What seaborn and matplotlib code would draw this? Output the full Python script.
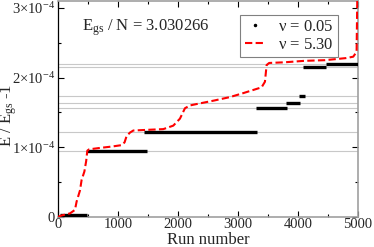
import numpy as np
import pandas as pd
import matplotlib
matplotlib.use("Agg")
import matplotlib.pyplot as plt
from matplotlib.lines import Line2D
from matplotlib.ticker import MultipleLocator
import seaborn as sns

# ---- data ----
# nu = 0.05 : plateau levels (units of 1e-4) and run-number ranges
black_levels = [0.02, 0.95, 1.216, 1.57, 1.634, 1.735, 2.153, 2.196]
black_start = [30, 490, 1430, 3300, 3800, 4010, 4090, 4460]
black_end = [490, 1480, 3320, 3810, 4040, 4110, 4460, 5000]

# reference (grey) lines at the plateau levels
grey_levels = [0.95, 1.216, 1.57, 1.634, 1.735, 2.153, 2.196]

# nu = 5.30 : red dashed curve
red_x = [0, 60, 200, 283, 311, 367, 394, 440, 470, 489, 520, 700, 900, 1061,
         1110, 1144, 1200, 1256, 1500, 1756, 1922, 2033, 2117, 2200, 2311,
         2600, 2867, 3100, 3394, 3450, 3478, 3520, 3783, 4100, 4450, 4800,
         4922, 4978, 4992]
red_y = [0.0, 0.02, 0.05, 0.10, 0.22, 0.38, 0.53, 0.65, 0.80, 0.95, 0.97,
         0.99, 1.01, 1.03, 1.07, 1.16, 1.21, 1.24, 1.25, 1.26, 1.31, 1.41,
         1.56, 1.60, 1.62, 1.67, 1.72, 1.78, 1.86, 1.94, 2.18, 2.21, 2.22,
         2.24, 2.25, 2.28, 2.30, 2.37, 3.3]

x_ticks = [0, 1000, 2000, 3000, 4000, 5000]
x_ticklabels = ["0", "1000", "2000", "3000", "4000", "5000"]
y_ticks = [0, 1, 2, 3]
y_ticklabels = ["0", r"1$\times$10$^{-4}$", r"2$\times$10$^{-4}$", r"3$\times$10$^{-4}$"]

scale = 1e-4

sns.set_style("ticks")
plt.rcParams["font.family"] = ["Liberation Serif", "DejaVu Serif"]
plt.rcParams["mathtext.fontset"] = "custom"
plt.rcParams["mathtext.rm"] = "Liberation Serif"
plt.rcParams["mathtext.it"] = "Liberation Serif:italic"
plt.rcParams["mathtext.bf"] = "Liberation Serif:bold"

fig = plt.figure(figsize=(3.74, 2.47), dpi=100)
ax = fig.add_axes([0.155, 0.122, 0.802, 0.874])

for lv in grey_levels:
    ax.axhline(lv * scale, color="#c8c8c8", lw=0.8, zorder=1)

ax.hlines([v * scale for v in black_levels], black_start, black_end,
          color="black", lw=2.4, zorder=3)

df = pd.DataFrame({"run": red_x, "E": [v * scale for v in red_y]})
sns.lineplot(data=df, x="run", y="E", ax=ax, color="red", lw=1.5,
             linestyle=(0, (3.5, 1.6)), estimator=None, sort=False, zorder=4)

ax.set_xlim(0, 5000)
ax.set_ylim(0, 3.1e-4)
ax.set_xticks(x_ticks)
ax.set_xticklabels(x_ticklabels, fontsize=10.5)
ax.set_yticks([t * scale for t in y_ticks])
ax.set_yticklabels(y_ticklabels, fontsize=10.5)
ax.xaxis.set_minor_locator(MultipleLocator(500))
ax.yaxis.set_minor_locator(MultipleLocator(0.5e-4))
ax.tick_params(which="both", direction="in", top=True, right=True, color="black")
ax.tick_params(which="major", length=4, width=0.8, pad=2)
ax.tick_params(axis="x", which="major", pad=0.5)
ax.tick_params(which="minor", length=2, width=0.8)

for side in ["top", "right", "bottom"]:
    ax.spines[side].set_color("#a0a0a0")
    ax.spines[side].set_linewidth(1.2)
ax.spines["left"].set_color("black")
ax.spines["left"].set_linewidth(0.9)

ax.set_xlabel("Run number", fontsize=12, va="baseline")
ax.xaxis.set_label_coords(0.5, -0.124)
ax.set_ylabel(r"E / E$_{\mathrm{gs}}$ -1", fontsize=12, va="center")
ax.yaxis.set_label_coords(-0.163, 0.47)

ax.text(0.08, 0.861, r"E$_{\mathrm{gs}}$ / N = 3.030266", transform=ax.transAxes,
        fontsize=12, ha="left", va="baseline")

handles = [Line2D([], [], color="black", marker=".", markersize=3, lw=0),
           Line2D([], [], color="red", lw=1.5, linestyle=(0, (3.5, 1.6)))]
leg = ax.legend(handles, [r"$\mathrm{\nu}$ = 0.05", r"$\mathrm{\nu}$ = 5.30"],
                loc="upper right", bbox_to_anchor=(0.933, 0.935), borderaxespad=0,
                fontsize=12, frameon=True, fancybox=False, framealpha=1,
                edgecolor="#808080", handlelength=1.2, handletextpad=0.8,
                labelspacing=0.1, borderpad=0.25)
leg.get_frame().set_linewidth(0.8)

fig.savefig("out.png", dpi=100)
